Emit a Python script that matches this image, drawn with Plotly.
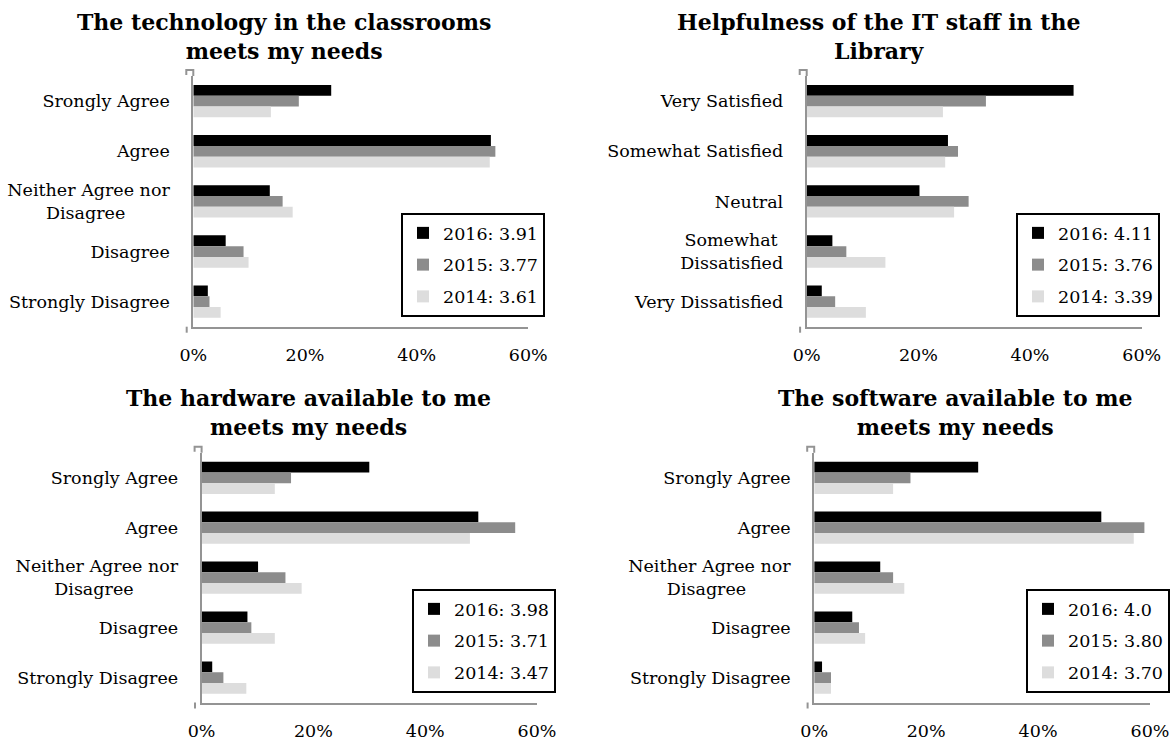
import plotly.graph_objects as go

# ---------------- data ----------------
years = ["2016", "2015", "2014"]
colors = ["#000000", "#8c8c8c", "#dddddd"]

titles = [
    "The technology in the classrooms<br>meets my needs",
    "Helpfulness of the IT staff in the<br>Library",
    "The hardware available to me<br>meets my needs",
    "The software available to me<br>meets my needs",
]

agree_cats = ["Srongly Agree", "Agree",
              "Neither Agree nor<br>Disagree\u00a0\u00a0\u00a0\u00a0\u00a0\u00a0\u00a0\u00a0",
              "Disagree", "Strongly Disagree"]
satis_cats = ["Very Satisfied", "Somewhat Satisfied", "Neutral",
              "Somewhat\u00a0<br>Dissatisfied", "Very Dissatisfied"]

# panel 1: classroom technology (percent)
classroom_2016 = [24.7, 53.3, 13.7, 5.8, 2.6]
classroom_2015 = [18.9, 54.1, 16.0, 9.0, 2.9]
classroom_2014 = [13.9, 53.1, 17.8, 9.9, 4.9]
classroom_scores = ["3.91", "3.77", "3.61"]

# panel 2: IT staff helpfulness
staff_2016 = [47.8, 25.3, 20.2, 4.6, 2.7]
staff_2015 = [32.1, 27.1, 29.0, 7.1, 5.1]
staff_2014 = [24.4, 24.8, 26.4, 14.1, 10.6]
staff_scores = ["4.11", "3.76", "3.39"]

# panel 3: hardware
hardware_2016 = [30.0, 49.5, 10.1, 8.2, 1.9]
hardware_2015 = [16.0, 56.1, 15.0, 8.9, 3.9]
hardware_2014 = [13.1, 48.0, 17.9, 13.1, 8.0]
hardware_scores = ["3.98", "3.71", "3.47"]

# panel 4: software
software_2016 = [29.3, 51.3, 11.8, 6.8, 1.4]
software_2015 = [17.2, 59.0, 14.1, 8.0, 3.0]
software_2014 = [14.1, 57.1, 16.1, 9.1, 3.0]
software_scores = ["4.0", "3.80", "3.70"]

x_ticks = [0, 20, 40, 60]
x_ticktext = ["0%", "20%", "40%", "60%"]

panels = [
    (agree_cats, [classroom_2016, classroom_2015, classroom_2014], classroom_scores),
    (satis_cats, [staff_2016, staff_2015, staff_2014], staff_scores),
    (agree_cats, [hardware_2016, hardware_2015, hardware_2014], hardware_scores),
    (agree_cats, [software_2016, software_2015, software_2014], software_scores),
]

# ---------------- layout geometry (page 1175 x 742) ----------------
W, H = 1175, 742
FONT = "DejaVu Serif"
AXIS_GRAY = "#949494"

# plot-area pixel boxes: (left, right, top, bottom)
boxes = [
    (193.3, 528.3, 76.1, 326.7),
    (806.7, 1141.7, 76.1, 326.7),
    (201.6, 537.0, 452.8, 702.5),
    (814.2, 1150.0, 452.8, 702.5),
]
title_pos = [(283.7, 36.7), (878.7, 36.7), (308.0, 412.3), (955.7, 412.3)]
legend_pos = [(545.0, 213.0), (1160.0, 213.0), (556.0, 589.0), (1170.0, 589.0)]

def px(x):
    return x / W

def py(y):
    return 1 - y / H

fig = go.Figure()
layout = dict(
    width=W, height=H,
    margin=dict(l=0, r=0, t=0, b=0),
    paper_bgcolor="white", plot_bgcolor="white",
    barmode="group", bargap=0.355, bargroupgap=0,
    font=dict(family=FONT, color="black", size=17.5),
    showlegend=True,
)
annotations = []
shapes = []

for i, (cats, series, scores) in enumerate(panels):
    n = i + 1
    xa = "x" if n == 1 else f"x{n}"
    ya = "y" if n == 1 else f"y{n}"
    lg = "legend" if n == 1 else f"legend{n}"
    for year, vals, col, sc in zip(years, series, colors, scores):
        fig.add_trace(go.Bar(
            y=cats, x=vals, orientation="h",
            name=f"{year}: {sc}",
            marker=dict(color=col, line=dict(width=0)),
            xaxis=xa, yaxis=ya, legend=lg,
            legendgroup=f"p{n}_{year}",
            hoverinfo="x+y+name",
        ))
    l, r, t, b = boxes[i]
    layout[f"xaxis{n if n > 1 else ''}"] = dict(
        domain=[px(l), px(r)], anchor=ya, range=[0, 60],
        tickvals=x_ticks, ticktext=x_ticktext,
        showline=True, linecolor=AXIS_GRAY, linewidth=2,
        showgrid=False, zeroline=False, ticks="",
        ticklabelstandoff=11, automargin=False,
        tickfont=dict(family=FONT, size=17.5, color="black"),
        fixedrange=True,
    )
    layout[f"yaxis{n if n > 1 else ''}"] = dict(
        domain=[py(b), py(t)], anchor=xa,
        type="category", categoryorder="array", categoryarray=cats,
        autorange="reversed",
        showline=True, linecolor=AXIS_GRAY, linewidth=2,
        showgrid=False, zeroline=False, ticks="",
        ticklabelstandoff=18, automargin=False,
        tickfont=dict(family=FONT, size=17.5, color="black"),
        fixedrange=True,
    )
    lx, ly = legend_pos[i]
    layout[lg] = dict(
        x=px(lx), y=py(ly), xanchor="right", yanchor="top",
        bgcolor="white", bordercolor="black", borderwidth=2,
        font=dict(family=FONT, size=17.5, color="black"),
        tracegroupgap=6, traceorder="grouped", itemclick=False,
    )
    tx, ty = title_pos[i]
    annotations.append(dict(
        text=f"<b>{titles[i]}</b>", xref="paper", yref="paper",
        x=px(tx), y=py(ty), xanchor="center", yanchor="middle",
        showarrow=False, align="center",
        font=dict(family=FONT, size=22, color="black"),
    ))
    # Excel-style axis end decorations
    shapes.append(dict(type="path", xref="paper", yref="paper",
                       path=f"M {px(l-7)},{py(t-1)} L {px(l-7)},{py(t-6)} L {px(l)},{py(t-6)} L {px(l)},{py(t)}",
                       line=dict(color=AXIS_GRAY, width=2)))
    shapes.append(dict(type="line", xref="paper", yref="paper",
                       x0=px(l-6.6), x1=px(l-6.6), y0=py(b), y1=py(b+6),
                       line=dict(color=AXIS_GRAY, width=2)))

layout["annotations"] = annotations
layout["shapes"] = shapes
fig.update_layout(**layout)

fig.write_html(
    "out.html",
    config={"displayModeBar": False},
    post_script="document.body.style.margin='0px';document.body.style.overflow='hidden';",
)
